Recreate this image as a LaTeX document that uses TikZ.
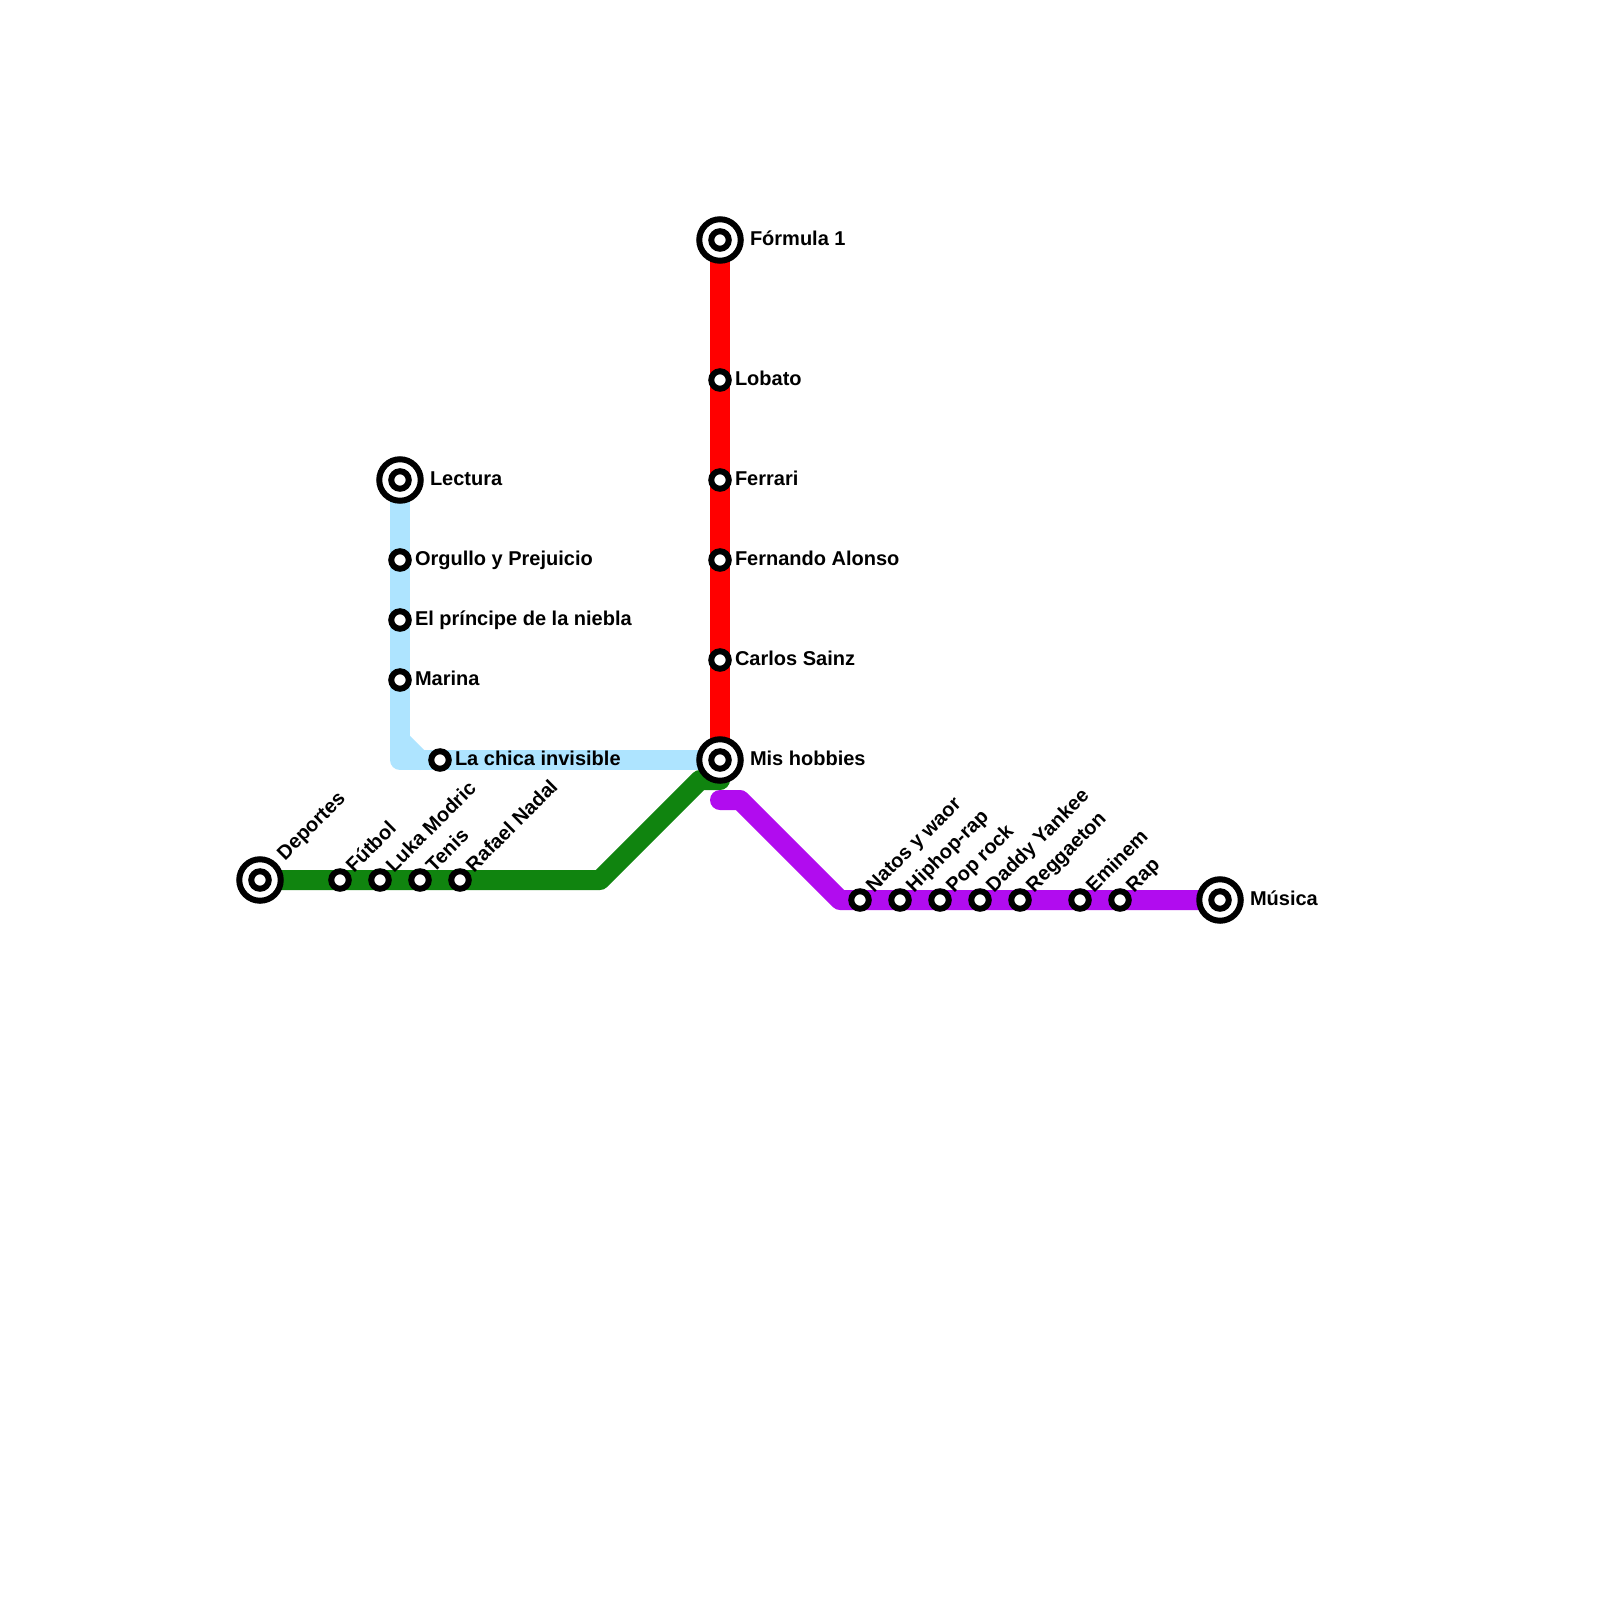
\documentclass[tikz,border=0pt]{standalone}
\usepackage{fontspec}
\setmainfont{Liberation Sans}
\usetikzlibrary{backgrounds}
\definecolor{lineblue}{HTML}{AEE4FF}
\definecolor{linegreen}{HTML}{10840F}
\definecolor{linered}{HTML}{FF0000}
\definecolor{linepurple}{HTML}{B10CEF}
\tikzset{
  metro/.style={line width=20pt,line join=round,line cap=round},
  stn/.style={circle,draw=black,fill=white,line width=6pt,minimum size=17.5pt,inner sep=0pt,outer sep=0pt},
  hubin/.style={circle,draw=black,fill=white,line width=6pt,minimum size=17.5pt,inner sep=0pt,outer sep=0pt},
  hubout/.style={circle,draw=black,fill=white,line width=6pt,minimum size=41.5pt,inner sep=0pt,outer sep=0pt},
  lab/.style={anchor=base west,inner sep=0pt,outer sep=0pt,font=\fontsize{20pt}{22pt}\selectfont\bfseries,text=black},
  rlab/.style={lab,rotate=45},
}
\newcommand{\hubstn}[3]{\node[hubout] (#1o) at (#2,#3) {}; \node[hubin] (#1) at (#2,#3) {};}
\begin{document}
\begin{tikzpicture}[x=1pt,y=-1pt]
\useasboundingbox (0,0) rectangle (1600,1600);
% junctions
\coordinate (bA) at (400,740);
\coordinate (bB) at (400,760);
\coordinate (bC) at (420,760);
\coordinate (gA) at (600,880);
\coordinate (gB) at (700,780);
\coordinate (gC) at (720,780);
\coordinate (pA) at (720,800);
\coordinate (pB) at (740,800);
\coordinate (pC) at (840,900);
% interchanges
\hubstn{formula}{720}{240}
\hubstn{hobbies}{720}{760}
\hubstn{lectura}{400}{480}
\hubstn{deportes}{260}{880}
\hubstn{musica}{1220}{900}
% stations
\node[stn] (lobato) at (720,380) {};
\node[stn] (ferrari) at (720,480) {};
\node[stn] (alonso) at (720,560) {};
\node[stn] (sainz) at (720,660) {};
\node[stn] (orgullo) at (400,560) {};
\node[stn] (principe) at (400,620) {};
\node[stn] (marina) at (400,680) {};
\node[stn] (chica) at (440,760) {};
\node[stn] (futbol) at (340,880) {};
\node[stn] (luka) at (380,880) {};
\node[stn] (tenis) at (420,880) {};
\node[stn] (nadal) at (460,880) {};
\node[stn] (natos) at (860,900) {};
\node[stn] (hiphop) at (900,900) {};
\node[stn] (poprock) at (940,900) {};
\node[stn] (daddy) at (980,900) {};
\node[stn] (reggaeton) at (1020,900) {};
\node[stn] (eminem) at (1080,900) {};
\node[stn] (rap) at (1120,900) {};
% lines
\begin{scope}[on background layer]
\fill[white] (0,0) rectangle (1600,1600);
\draw[metro,lineblue] (lectura.center) -- (bB) -- (hobbies.center);
\draw[metro,lineblue] (bA) -- (bC);
\draw[metro,linered] (formula.center) -- (hobbies.center);
\draw[metro,linegreen] (deportes.center) -- (gA) -- (gB) -- (gC);
\draw[metro,linepurple] (pA) -- (pB) -- (pC) -- (musica.center);
\end{scope}
% labels
\node[lab] (tformula) at (750,245) {Fórmula 1};
\node[lab] (thobbies) at (750,765) {Mis hobbies};
\node[lab] (tlectura) at (430,485) {Lectura};
\node[lab] (tmusica) at (1250,905) {Música};
\node[lab] (tlobato) at (735,385) {Lobato};
\node[lab] (tferrari) at (735,485) {Ferrari};
\node[lab] (talonso) at (735,565) {Fernando Alonso};
\node[lab] (tsainz) at (735,665) {Carlos Sainz};
\node[lab] (torgullo) at (415,565) {Orgullo y Prejuicio};
\node[lab] (tprincipe) at (415,625) {El príncipe de la niebla};
\node[lab] (tmarina) at (415,685) {Marina};
\node[lab] (tchica) at (455,765) {La chica invisible};
\node[rlab] (tdeportes) at (285,861) {Deportes};
\node[rlab] (tfutbol) at (354,873) {Fútbol};
\node[rlab] (tluka) at (394,873) {Luka Modric};
\node[rlab] (ttenis) at (434,873) {Tenis};
\node[rlab] (tnadal) at (474,873) {Rafael Nadal};
\node[rlab] (tnatos) at (874,893) {Natos y waor};
\node[rlab] (thiphop) at (914,893) {Hiphop-rap};
\node[rlab] (tpoprock) at (954,893) {Pop rock};
\node[rlab] (tdaddy) at (994,893) {Daddy Yankee};
\node[rlab] (treggaeton) at (1034,893) {Reggaeton};
\node[rlab] (teminem) at (1094,893) {Eminem};
\node[rlab] (trap) at (1134,893) {Rap};
\end{tikzpicture}
\end{document}
